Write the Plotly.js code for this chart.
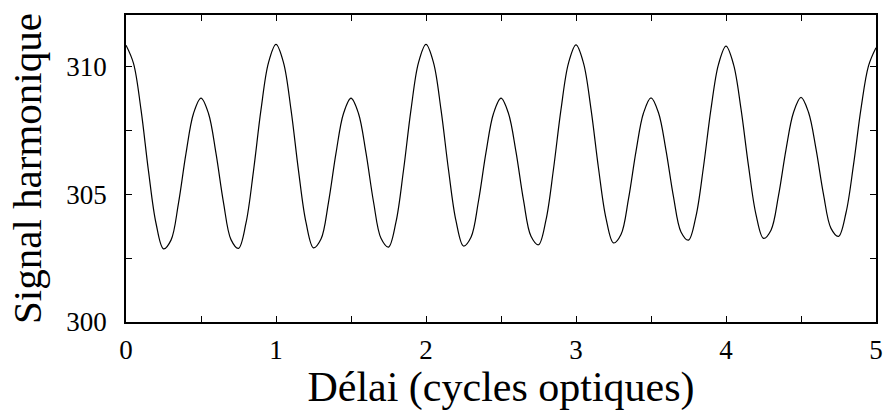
<!DOCTYPE html>
<html>
<head>
<meta charset="utf-8">
<script src="https://cdn.plot.ly/plotly-3.0.1.min.js"></script>
<style>
html,body{margin:0;padding:0;background:#fff;}
#chart{width:883px;height:411px;}
</style>
</head>
<body>
<div id="chart"></div>
<script>
// Délai (cycles optiques), step 0.05 from 0 to 5
var delay = [];
for (var i = 0; i <= 100; i++) { delay.push(+(i * 0.05).toFixed(2)); }

// Signal harmonique values
var signal = [
  310.82, 310.11, 308.30, 305.90, 303.86, 302.86, 303.20, 304.65, 306.59, 308.15,
  308.75, 308.15, 306.59, 304.67, 303.22, 302.88, 303.87, 305.91, 308.30, 310.14,
  310.85, 310.14, 308.30, 305.92, 303.89, 302.90, 303.24, 304.68, 306.60, 308.15,
  308.75, 308.15, 306.61, 304.70, 303.27, 302.93, 303.91, 305.93, 308.30, 310.14,
  310.85, 310.14, 308.30, 305.95, 303.95, 302.97, 303.31, 304.73, 306.63, 308.15,
  308.75, 308.15, 306.65, 304.76, 303.35, 303.02, 303.99, 305.98, 308.31, 310.12,
  310.83, 310.12, 308.32, 306.01, 304.05, 303.09, 303.42, 304.81, 306.67, 308.17,
  308.76, 308.18, 306.71, 304.89, 303.52, 303.20, 304.14, 306.07, 308.33, 310.07,
  310.78, 310.07, 308.33, 306.10, 304.20, 303.27, 303.59, 304.94, 306.74, 308.19,
  308.78, 308.20, 306.77, 304.99, 303.66, 303.35, 304.27, 306.14, 308.34, 310.01,
  310.72
];

var xTicks = [0, 1, 2, 3, 4, 5];
var yTicks = [300, 305, 310];

var serif = 'Liberation Serif';

var trace = {
  x: delay,
  y: signal,
  type: 'scatter',
  mode: 'lines',
  line: {color: '#000', width: 1.2, shape: 'spline', smoothing: 1},
  hoverinfo: 'skip'
};

var layout = {
  width: 883,
  height: 411,
  margin: {l: 126, r: 7, t: 15, b: 89},
  paper_bgcolor: '#fff',
  plot_bgcolor: '#fff',
  showlegend: false,
  font: {family: serif, size: 27, color: '#000'},
  xaxis: {
    range: [0, 5],
    tickmode: 'array',
    tickvals: xTicks,
    ticks: 'inside',
    ticklen: 6,
    tickwidth: 1,
    tickcolor: '#000',
    minor: {dtick: 0.5, tick0: 0, ticks: 'inside', ticklen: 6, tickwidth: 1, tickcolor: '#000', showgrid: false},
    showline: true,
    linecolor: '#000',
    linewidth: 1.5,
    mirror: 'ticks',
    showgrid: false,
    zeroline: false,
    tickfont: {family: serif, size: 27},
    ticklabelstandoff: 3,
    title: {text: 'Délai (cycles optiques)', font: {family: serif, size: 42}, standoff: 4}
  },
  yaxis: {
    range: [300, 312],
    tickmode: 'array',
    tickvals: yTicks,
    ticks: 'inside',
    ticklen: 6,
    tickwidth: 1,
    tickcolor: '#000',
    minor: {dtick: 2.5, tick0: 300, ticks: 'inside', ticklen: 6, tickwidth: 1, tickcolor: '#000', showgrid: false},
    showline: true,
    linecolor: '#000',
    linewidth: 1.5,
    mirror: 'ticks',
    showgrid: false,
    zeroline: false,
    tickfont: {family: serif, size: 27},
    ticklabelstandoff: 12,
    title: {text: 'Signal harmonique', font: {family: serif, size: 41}, standoff: 12}
  }
};

Plotly.newPlot('chart', [trace], layout, {displayModeBar: false});
</script>
</body>
</html>
